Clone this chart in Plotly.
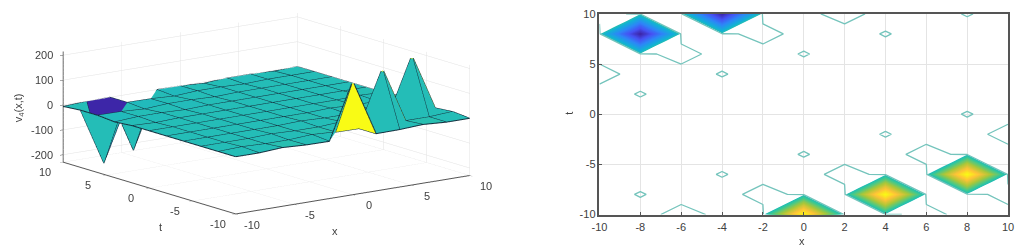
import plotly.graph_objects as go

x_vals = [-10, -8, -6, -4, -2, 0, 2, 4, 6, 8, 10]
t_vals = [-10, -8, -6, -4, -2, 0, 2, 4, 6, 8, 10]
# rows run over t, columns over x
z_rows = [
    [0, 0, 6, 1, 0, 228, 0, 1, 6, 0, 0],          # t=-10
    [0, 3.5, 0, 0, 6, 1, 0, 228, 0, 0, 6],        # t=-8
    [0, 0, 0, 3.5, 0, 0, 6, 1, 0, 228, 0],        # t=-6
    [0, 0, 0, 0, 0, 3.5, 0, 0, 6, 1, 0],          # t=-4
    [0, 0, 0, 0, 0, 0, 0, 3.5, 0, 0, 6],          # t=-2
    [0, 0, 0, 0, 0, 0, 0, 0, 0, 3.5, 0],          # t=0
    [0, -3.5, 0, 0, 0, 0, 0, 0, 0, 0, 0],         # t=2
    [-6, 0, 0, -3.5, 0, 0, 0, 0, 0, 0, 0],        # t=4
    [0, -1, -6, 0, 0, -3.5, 0, 0, 0, 0, 0],       # t=6
    [0, -228, 0, -1, -6, 0, 0, -3.5, 0, 0, 0],    # t=8
    [-6, -1.4, 0, -228, 0, -0.85, -6, 0, 0, -3.5, 0],  # t=10
]
z_ticks = [-200, -100, 0, 100, 200]
xy_ticks = [-10, -5, 0, 5, 10]
contour_x_ticks = [-10, -8, -6, -4, -2, 0, 2, 4, 6, 8, 10]
contour_t_ticks = [-10, -5, 0, 5, 10]
z_limit = 228
z_floor = -230
z_top = 215
level = 3

parula = ["#3d26a8", "#4752f4", "#2e87f7", "#12b1d6", "#37c897", "#abc739", "#fec338", "#f9fb15"]
mid = "#23bdb7"
TEXT = "#404040"
FONT = "Liberation Sans"
W, H = 1021, 251
def fx(p):
    return (p - 4) / (W - 8)
def fy(p):
    return 1 - (p - 4) / (H - 8)

n = len(x_vals)
m = len(t_vals)
vx, vy, vz = [], [], []
for j in range(m):
    for i in range(n):
        vx.append(x_vals[i])
        vy.append(t_vals[j])
        vz.append(z_rows[j][i])
ia, ib, ic, cell = [], [], [], []
for j in range(m - 1):
    for i in range(n - 1):
        p = j * n + i
        ia += [p, p]
        ib += [p + 1, p + n + 1]
        ic += [p + n + 1, p + n]
        cell += [z_rows[j][i], z_rows[j][i]]

scale3d = [[k / (len(parula) - 1), c] for k, c in enumerate(parula)]
mesh = go.Mesh3d(
    x=vx, y=vy, z=vz, i=ia, j=ib, k=ic,
    intensity=cell, intensitymode="cell", colorscale=scale3d,
    cmin=-z_limit, cmax=z_limit, showscale=False, flatshading=True,
    lighting=dict(ambient=1, diffuse=0, specular=0, roughness=1, fresnel=0),
    scene="scene",
)
lx, ly, lz = [], [], []
for j in range(m):
    for i in range(n):
        lx.append(x_vals[i]); ly.append(t_vals[j]); lz.append(z_rows[j][i])
    lx.append(None); ly.append(None); lz.append(None)
for i in range(n):
    for j in range(m):
        lx.append(x_vals[i]); ly.append(t_vals[j]); lz.append(z_rows[j][i])
    lx.append(None); ly.append(None); lz.append(None)
wire = go.Scatter3d(x=lx, y=ly, z=lz, mode="lines",
                    line=dict(color="#13303f", width=2), showlegend=False, scene="scene")

# Two contour traces (one per sign): transparent below the first level so the grid shows
lo, hi, cs = 7, 229, 6
span = hi + cs - (lo - cs)
def half_scale(stops):
    out = [[0, "rgba(255,255,255,0)"], [0.025, "rgba(255,255,255,0)"], [0.0251, mid]]
    for u, c in stops:
        out.append([((abs(u - 0.5) * 2 * z_limit) - (lo - cs)) / span, c])
    out.append([1, stops[-1][1]])
    return out
pos_scale = half_scale(scale3d[4:])
neg_scale = half_scale(scale3d[3::-1])
fill_pos = go.Contour(
    x=x_vals, y=t_vals, z=z_rows, colorscale=pos_scale, showscale=False,
    contours=dict(coloring="fill", start=lo, end=hi, size=cs),
    line=dict(width=0, smoothing=0), xaxis="x", yaxis="y",
)
fill_neg = go.Contour(
    x=x_vals, y=t_vals, z=[[-v for v in row] for row in z_rows], colorscale=neg_scale, showscale=False,
    contours=dict(coloring="fill", start=lo, end=hi, size=cs),
    line=dict(width=0, smoothing=0), xaxis="x", yaxis="y",
)
lines = go.Contour(
    x=x_vals, y=t_vals, z=z_rows, showscale=False,
    contours=dict(coloring="none", start=-level, end=level, size=2 * level),
    line=dict(color="#74c4bc", width=1.3, smoothing=0), xaxis="x", yaxis="y",
)

fig = go.Figure([mesh, wire, fill_pos, fill_neg, lines])

axis3d = dict(
    backgroundcolor="white", showbackground=False, gridcolor="#e2e2e2", gridwidth=1,
    zeroline=False, showline=True, linecolor="#555555", linewidth=2, ticks="outside",
    ticklen=4, tickcolor="#555555", title=dict(text=""), showspikes=False,
    showticklabels=False,
)
axis2d = dict(
    showgrid=True, gridcolor="#e4e4e4", gridwidth=1, zeroline=False, showline=True,
    linecolor="#555555", linewidth=1.5, mirror=True, ticks="inside", ticklen=3,
    tickcolor="#555555", tickfont=dict(family=FONT, size=11, color=TEXT), range=[-10, 10],
)
tick_font = dict(family=FONT, size=11, color=TEXT)
scene_notes = []
for v in xy_ticks:
    scene_notes.append(dict(x=v, y=-10, z=z_floor, text=str(v), showarrow=False, font=tick_font,
                            xshift=16, yshift=-10.5))
    scene_notes.append(dict(x=-10, y=v, z=z_floor, text=str(v), showarrow=False, font=tick_font,
                            xshift=-18, yshift=-9.5))
for v in z_ticks:
    scene_notes.append(dict(x=-10, y=10, z=v, text=str(v), showarrow=False, font=tick_font,
                            xanchor="right", xshift=-8))

fig.update_layout(
    width=W, height=H, autosize=False, paper_bgcolor="white", plot_bgcolor="white",
    margin=dict(l=0, r=0, t=0, b=0), showlegend=False,
    scene=dict(
        domain=dict(x=[0, 0.5133], y=[0.108, 0.992]),
        xaxis=dict(axis3d, range=[-10, 10], tickvals=xy_ticks),
        yaxis=dict(axis3d, range=[-10, 10], tickvals=xy_ticks),
        zaxis=dict(axis3d, range=[z_floor, z_top], tickvals=z_ticks),
        aspectmode="manual", aspectratio=dict(x=2.76, y=2.75, z=1.076),
        camera=dict(projection=dict(type="orthographic"),
                    eye=dict(x=-2.9, y=-3.92, z=1.11), up=dict(x=0, y=0, z=1),
                    center=dict(x=0, y=0, z=0)),
        annotations=scene_notes,
    ),
    xaxis=dict(axis2d, domain=[fx(599), fx(1010)], tickvals=contour_x_ticks,
               ticktext=[str(v) for v in contour_x_ticks], anchor="y", ticklabelstandoff=2),
    yaxis=dict(axis2d, domain=[fy(216), fy(12)], tickvals=contour_t_ticks,
               ticktext=[str(v) for v in contour_t_ticks], anchor="x"),
    annotations=[
        dict(text="x", x=803, y=243, xref="paper", yref="paper", showarrow=False),
        dict(text="t", x=569, y=113, xref="paper", yref="paper", showarrow=False, textangle=-90),
        dict(text="x", x=333, y=233, xref="paper", yref="paper", showarrow=False),
        dict(text="t", x=157, y=229, xref="paper", yref="paper", showarrow=False),
        dict(text="v<sub>4</sub>(x,t)", x=15, y=107, xref="paper", yref="paper", showarrow=False, textangle=-90),
    ],
    font=dict(family=FONT, size=11, color=TEXT),
)
for a in fig.layout.annotations:
    a.update(x=fx(a.x), y=fy(a.y), xanchor="center", yanchor="middle",
             font=dict(family=FONT, size=11, color=TEXT))

fig.write_html("out.html", post_script="document.body.style.margin='0';",
               config=dict(displayModeBar=False))
